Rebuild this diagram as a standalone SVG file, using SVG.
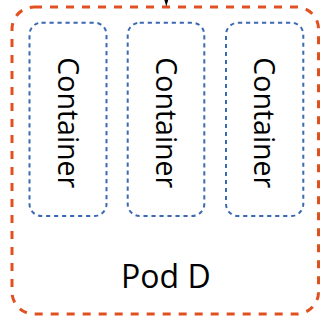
<svg xmlns="http://www.w3.org/2000/svg" width="323" height="325" viewBox="0 0 323 325">
<style>
.pod{fill:#fff;stroke:#E1501E;stroke-width:3;stroke-dasharray:8 8}
.ctr{fill:#fff;stroke:#3A6AB0;stroke-width:2;stroke-dasharray:4.2 3.8}
.lbl{font-family:"Open Sans","Noto Sans",sans-serif;fill:#000;text-anchor:middle}
.conn{stroke:#000;stroke-width:1.5;fill:none}
</style>
<rect width="323" height="325" fill="#fff"/>
<g id="pod-d">
<rect class="pod" x="12" y="7" width="306.5" height="307" rx="22" ry="22"/>
<text class="lbl" x="165.8" y="287.7" font-size="32">Pod D</text>
</g>
<g id="container-1">
<rect class="ctr" x="29.5" y="22.7" width="77" height="193.3" rx="12" ry="12"/>
<text class="lbl" font-size="28.5" transform="translate(57.7,122.8) rotate(90)">Container</text>
</g>
<g id="container-2">
<rect class="ctr" x="127.7" y="22.7" width="76.6" height="193.3" rx="12" ry="12"/>
<text class="lbl" font-size="28.5" transform="translate(155.9,122.8) rotate(90)">Container</text>
</g>
<g id="container-3">
<rect class="ctr" x="226" y="22.7" width="77.3" height="193.3" rx="12" ry="12"/>
<text class="lbl" font-size="28.5" transform="translate(254.2,122.8) rotate(90)">Container</text>
</g>
<g id="connectors">
<line class="conn" x1="166.3" y1="-20" x2="166.3" y2="-1"/>
<polygon points="163.8,-2 168.8,-2 166.3,6.6" fill="#000"/>
</g>
</svg>
